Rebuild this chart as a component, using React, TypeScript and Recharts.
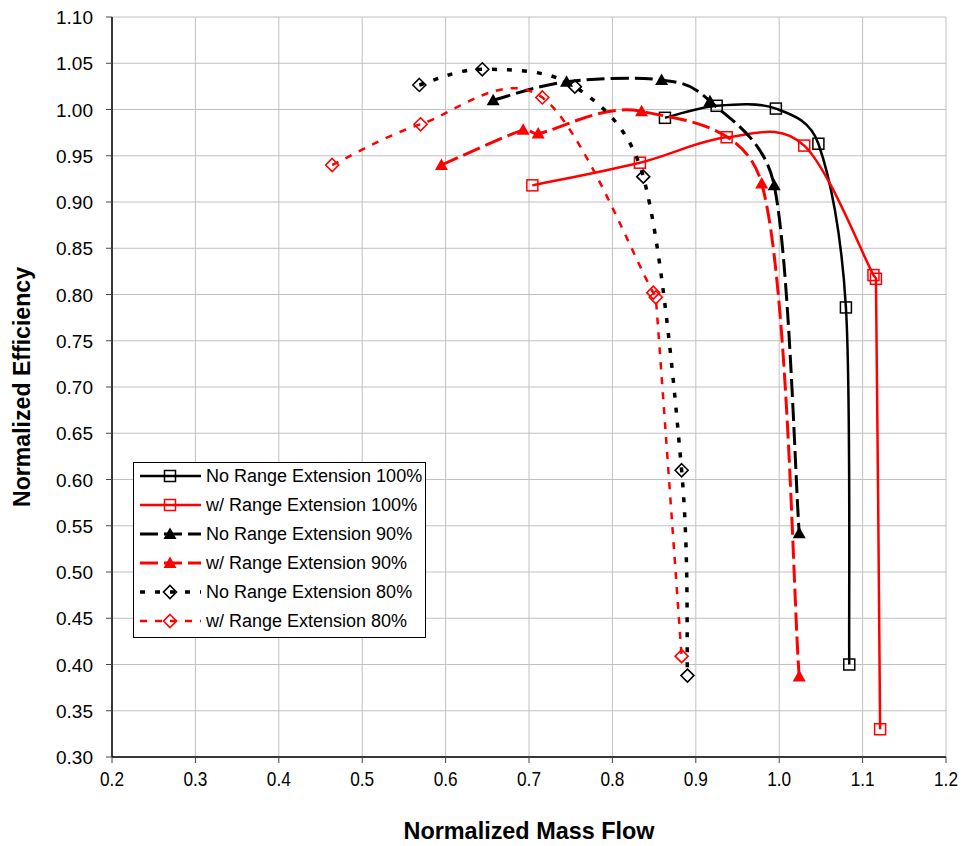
import React from "react";
import { ScatterChart, Scatter, XAxis, YAxis, CartesianGrid, Legend, Label } from "recharts";

// values (mass flow, efficiency)
const noRe100X = [0.863, 0.925, 0.996, 1.047, 1.080, 1.084];
const noRe100Y = [0.991, 1.004, 1.001, 0.963, 0.786, 0.400];
const wRe100X = [0.704, 0.833, 0.937, 1.030, 1.113, 1.116, 1.121];
const wRe100Y = [0.918, 0.9425, 0.970, 0.961, 0.821, 0.817, 0.330];
const noRe90X = [0.657, 0.745, 0.859, 0.917, 0.994, 1.024];
const noRe90Y = [1.010, 1.030, 1.032, 1.009, 0.918, 0.542];
const wRe90X = [0.595, 0.693, 0.711, 0.835, 0.979, 1.024];
const wRe90Y = [0.940, 0.978, 0.974, 0.998, 0.920, 0.387];
const noRe80X = [0.5685, 0.644, 0.755, 0.837, 0.883, 0.890];
const noRe80Y = [1.0265, 1.0435, 1.0247, 0.9274, 0.610, 0.388];
const wRe80X = [0.464, 0.570, 0.716, 0.849, 0.852, 0.883];
const wRe80Y = [0.940, 0.984, 1.013, 0.802, 0.797, 0.409];

const xTicks = [0.2, 0.3, 0.4, 0.5, 0.6, 0.7, 0.8, 0.9, 1.0, 1.1, 1.2];
const yTicks = [0.3, 0.35, 0.4, 0.45, 0.5, 0.55, 0.6, 0.65, 0.7, 0.75, 0.8, 0.85, 0.9, 0.95, 1.0, 1.05, 1.1];

const zip = (xs: number[], ys: number[]) => xs.map((x, i) => ({ x, y: ys[i] }));

type MarkerKind = "square" | "triangle" | "diamond";

const SERIES = [
  { name: "No Range Extension 100%", data: zip(noRe100X, noRe100Y), color: "#000000", marker: "square" as MarkerKind, width: 2.5, dash: undefined },
  { name: "w/ Range Extension 100%", data: zip(wRe100X, wRe100Y), color: "#ff0000", marker: "square" as MarkerKind, width: 2.5, dash: undefined },
  { name: "No Range Extension 90%", data: zip(noRe90X, noRe90Y), color: "#000000", marker: "triangle" as MarkerKind, width: 3, dash: "18 6" },
  { name: "w/ Range Extension 90%", data: zip(wRe90X, wRe90Y), color: "#ff0000", marker: "triangle" as MarkerKind, width: 3, dash: "18 6" },
  { name: "No Range Extension 80%", data: zip(noRe80X, noRe80Y), color: "#000000", marker: "diamond" as MarkerKind, width: 3.5, dash: "5 10" },
  { name: "w/ Range Extension 80%", data: zip(wRe80X, wRe80Y), color: "#ff0000", marker: "diamond" as MarkerKind, width: 2.5, dash: "7 8" },
];

// Excel style smoothing: Catmull-Rom through every point, control arms capped
// so very short segments don't loop
const excelSmooth = (context: any) => {
  let pts: number[][] = [];
  const arm = (ax: number, ay: number, seg: number) => {
    const len = Math.hypot(ax, ay);
    const max = seg * 0.45;
    if (len > max && len > 0) return [(ax * max) / len, (ay * max) / len];
    return [ax, ay];
  };
  return {
    areaStart() {},
    areaEnd() {},
    lineStart() {
      pts = [];
    },
    point(x: number, y: number) {
      pts.push([+x, +y]);
    },
    lineEnd() {
      const n = pts.length;
      if (!n) return;
      context.moveTo(pts[0][0], pts[0][1]);
      for (let i = 0; i < n - 1; i++) {
        const p0 = pts[Math.max(0, i - 1)];
        const p1 = pts[i];
        const p2 = pts[i + 1];
        const p3 = pts[Math.min(n - 1, i + 2)];
        const seg = Math.hypot(p2[0] - p1[0], p2[1] - p1[1]);
        const a1 = arm((p2[0] - p0[0]) / 6, (p2[1] - p0[1]) / 6, seg);
        const a2 = arm((p3[0] - p1[0]) / 6, (p3[1] - p1[1]) / 6, seg);
        context.bezierCurveTo(p1[0] + a1[0], p1[1] + a1[1], p2[0] - a2[0], p2[1] - a2[1], p2[0], p2[1]);
      }
    },
  };
};

function Marker({ kind, color, cx, cy }: { kind: MarkerKind; color: string; cx: number; cy: number }) {
  if (kind === "square") {
    return <rect x={cx - 5.5} y={cy - 5.5} width={11} height={11} fill="none" stroke={color} strokeWidth={1.5} />;
  }
  if (kind === "triangle") {
    return <path d={`M${cx},${cy - 6.5}L${cx + 6.5},${cy + 5}L${cx - 6.5},${cy + 5}Z`} fill={color} />;
  }
  return (
    <path d={`M${cx},${cy - 6.5}L${cx + 6.5},${cy}L${cx},${cy + 6.5}L${cx - 6.5},${cy}Z`} fill="none" stroke={color} strokeWidth={1.6} />
  );
}

function XTick({ x, y, payload }: any) {
  return (
    <text transform={`translate(${x},${y + 21}) scale(0.82,1)`} textAnchor="middle" fontSize={21} fontFamily="Liberation Sans, Arial, sans-serif" fill="#000">
      {Number(payload.value).toFixed(1)}
    </text>
  );
}

function YTick({ x, y, payload }: any) {
  return (
    <text x={x} y={y + 7} textAnchor="end" fontSize={19} fontFamily="Liberation Sans, Arial, sans-serif" fill="#000">
      {Number(payload.value).toFixed(2)}
    </text>
  );
}

function LegendBox() {
  return (
    <div style={{ width: 293, height: 176, border: "1px solid #000", background: "#fff", boxSizing: "border-box" }}>
      <svg width={291} height={174}>
        {SERIES.map((s, i) => {
          const cy = 13 + i * 29;
          return (
            <g key={s.name}>
              <line x1={6} x2={67} y1={cy} y2={cy} stroke={s.color} strokeWidth={s.width} strokeDasharray={s.dash} />
              <Marker kind={s.marker} color={s.color} cx={36} cy={cy} />
              <text x={72} y={cy + 6} fontSize={18} fontFamily="Liberation Sans, Arial, sans-serif" fill="#000">
                {s.name}
              </text>
            </g>
          );
        })}
      </svg>
    </div>
  );
}

export default function App() {
  return (
    <div style={{ position: "absolute", left: 0, top: 0, background: "#fff" }}>
      <ScatterChart width={966} height={846} margin={{ top: 17, right: 20, left: 0, bottom: 0 }}>
        <CartesianGrid stroke="#c0c0c0" strokeWidth={1} />
        <XAxis
          type="number"
          dataKey="x"
          domain={[0.2, 1.2]}
          ticks={xTicks}
          interval={0}
          height={89}
          axisLine={{ stroke: "#000", strokeWidth: 1.5 }}
          tickLine={{ stroke: "#444" }}
          tickSize={6}
          tick={<XTick />}
        >
          <Label
            content={({ viewBox }: any) => (
              <text
                x={viewBox.x + viewBox.width / 2}
                y={830}
                textAnchor="middle"
                dominantBaseline="central"
                fontSize={24}
                fontWeight="bold"
                fontFamily="Liberation Sans, Arial, sans-serif"
                textLength={251}
                lengthAdjust="spacingAndGlyphs"
              >
                Normalized Mass Flow
              </text>
            )}
          />
        </XAxis>
        <YAxis
          type="number"
          dataKey="y"
          domain={[0.3, 1.1]}
          ticks={yTicks}
          interval={0}
          width={112}
          axisLine={{ stroke: "#000", strokeWidth: 1.5 }}
          tickLine={{ stroke: "#444" }}
          tickSize={6}
          tickMargin={13}
          tick={<YTick />}
        >
          <Label
            content={({ viewBox }: any) => (
              <text
                transform={`translate(22,${viewBox.y + viewBox.height / 2}) rotate(-90)`}
                textAnchor="middle"
                dominantBaseline="central"
                fontSize={23}
                fontWeight="bold"
                fontFamily="Liberation Sans, Arial, sans-serif"
                textLength={240}
                lengthAdjust="spacingAndGlyphs"
              >
                Normalized Efficiency
              </text>
            )}
          />
        </YAxis>
        {SERIES.map((s) => (
          <Scatter
            key={s.name}
            name={s.name}
            data={s.data}
            fill={s.color}
            isAnimationActive={false}
            line={{ stroke: s.color, strokeWidth: s.width, strokeDasharray: s.dash, fill: "none" }}
            lineJointType={excelSmooth as any}
            shape={(p: any) => <Marker kind={s.marker} color={s.color} cx={p.cx} cy={p.cy} />}
          />
        ))}
        <Legend
          layout="vertical"
          align="center"
          verticalAlign="middle"
          wrapperStyle={{ left: 133, top: 462, width: 293, height: 176 }}
          content={() => <LegendBox />}
        />
      </ScatterChart>
    </div>
  );
}
